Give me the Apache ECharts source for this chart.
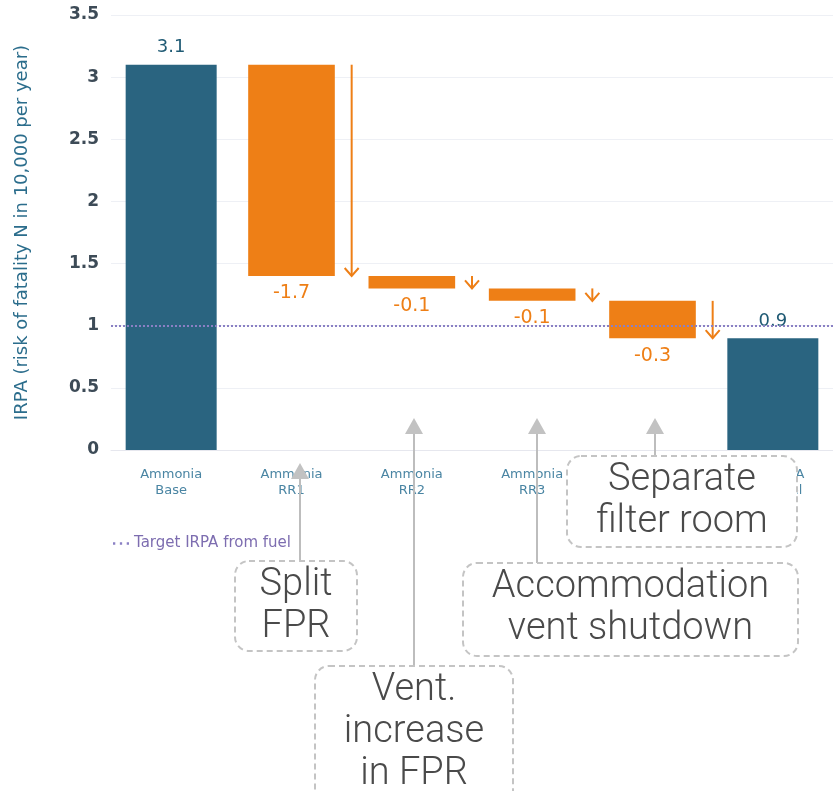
<!DOCTYPE html>
<html>
<head>
<meta charset="utf-8">
<script src="https://cdn.jsdelivr.net/npm/echarts@6/dist/echarts.min.js"></script>
<style>
  html, body { margin: 0; padding: 0; background: #fff; }
  #chart { width: 833px; height: 791px; }
</style>
</head>
<body>
<div id="chart"></div>
<script>
// chart data
var categories = ['Ammonia\nBase', 'Ammonia\nRR1', 'Ammonia\nRR2', 'Ammonia\nRR3', 'Ammonia\nRR4', 'Total IRPA\nfrom fuel'];
var totals = [3.1, '-', '-', '-', '-', 0.9];
var changes = [null, -1.7, -0.1, -0.1, -0.3, null];
var target = 1;
var yTicks = {min: 0, max: 3.5, step: 0.5};

var BLUE = '#2a6480';
var ORANGE = '#ee7f16';
var PURPLE = '#8a80c4';
var FONT = '"DejaVu Sans", Verdana, sans-serif';

// running total -> floating bars [index, from, to, label]
var steps = [];
var run = totals[0];
for (var i = 0; i < changes.length; i++) {
  if (changes[i] === null) continue;
  var next = Math.round((run + changes[i]) * 10) / 10;
  steps.push([i, run, next, changes[i]]);
  run = next;
}

function renderStep(params, api) {
  var hi = api.coord([api.value(0), api.value(1)]);
  var lo = api.coord([api.value(0), api.value(2)]);
  var band = api.size([1, 0])[0];
  var w = band * 0.72;
  var ax = hi[0] + band / 2;
  var label = steps[params.dataIndex][3];
  return {
    type: 'group',
    children: [
      {type: 'rect', shape: {x: hi[0] - w / 2, y: hi[1], width: w, height: lo[1] - hi[1]}, style: {fill: ORANGE}},
      {type: 'line', shape: {x1: ax, y1: hi[1], x2: ax, y2: lo[1]}, style: {stroke: ORANGE, lineWidth: 2}},
      {type: 'polyline', shape: {points: [[ax - 7, lo[1] - 8], [ax, lo[1]], [ax + 7, lo[1] - 8]]},
        style: {stroke: ORANGE, lineWidth: 2, fill: null}},
      {type: 'text', style: {text: String(label), x: hi[0], y: lo[1] + 8, align: 'center', verticalAlign: 'top',
        fill: ORANGE, font: '19px ' + FONT}}
    ]
  };
}

// callout boxes under the chart
var notes = [
  {lines: ['Split', 'FPR'], box: [235, 561, 122, 90], arrow: [300, 463]},
  {lines: ['Vent.', 'increase', 'in FPR'], box: [315, 666, 198, 140], arrow: [414, 418]},
  {lines: ['Accommodation', 'vent shutdown'], box: [463, 563, 335, 93], arrow: [537, 418]},
  {lines: ['Separate', 'filter room'], box: [567, 456, 230, 91], arrow: [655, 418]}
];

function noteGraphics() {
  var els = [];
  notes.forEach(function (n) {
    var b = n.box, a = n.arrow;
    els.push({type: 'line', z: 100, shape: {x1: a[0], y1: b[1], x2: a[0], y2: a[1] + 14},
      style: {stroke: '#bdbdbd', lineWidth: 2}});
    els.push({type: 'polygon', z: 100, shape: {points: [[a[0], a[1]], [a[0] - 9, a[1] + 16], [a[0] + 9, a[1] + 16]]},
      style: {fill: '#c2c2c2'}});
    els.push({type: 'rect', z: 101, shape: {x: b[0], y: b[1], width: b[2], height: b[3], r: 14},
      style: {fill: '#fff', stroke: '#c4c4c4', lineWidth: 2, lineDash: [6, 4]}});
    n.lines.forEach(function (t, k) {
      els.push({type: 'text', z: 102, style: {text: t, x: b[0] + b[2] / 2, y: b[1] + 24 + k * 42,
        align: 'center', verticalAlign: 'middle', fill: '#4a4a4a', font: '300 38px Roboto, sans-serif'}});
    });
  });
  return els;
}

var chart = echarts.init(document.getElementById('chart'));
chart.setOption({
  animation: false,
  grid: {left: 111, right: -4, top: 15, bottom: 341},
  legend: {
    left: 108, top: 531, itemWidth: 16, itemHeight: 3, itemGap: 8,
    data: [{name: 'Target IRPA from fuel', icon: 'path://M0,0h2v2h-2z M6,0h2v2h-2z M12,0h2v2h-2z'}],
    textStyle: {color: '#7d6db0', fontSize: 15, fontFamily: FONT}
  },
  xAxis: {
    type: 'category', data: categories,
    axisLine: {lineStyle: {color: '#e6e7ee'}},
    axisTick: {show: false},
    axisLabel: {color: '#4a85a3', fontSize: 13, fontFamily: FONT, margin: 17, lineHeight: 16, interval: 0}
  },
  yAxis: {
    type: 'value', min: yTicks.min, max: yTicks.max, interval: yTicks.step,
    name: 'IRPA (risk of fatality N in 10,000 per year)',
    nameLocation: 'middle', nameGap: 80,
    nameTextStyle: {color: '#2b6d8c', fontSize: 18, fontFamily: FONT},
    axisLabel: {color: '#3d4b57', fontSize: 17, fontWeight: 'bold', fontFamily: FONT, margin: 12},
    splitLine: {lineStyle: {color: '#eef0f5'}}
  },
  series: [
    {
      type: 'bar', data: totals, barWidth: 91,
      itemStyle: {color: BLUE},
      label: {show: true, position: 'top', distance: 8, color: '#1f5a74', fontSize: 18, fontFamily: FONT}
    },
    {
      type: 'custom', data: steps, renderItem: renderStep,
      encode: {x: 0, y: [1, 2]}, z: 3
    },
    {
      name: 'Target IRPA from fuel', type: 'line', data: [],
      symbol: 'none',
      lineStyle: {type: 'dotted', color: PURPLE, width: 2},
      itemStyle: {color: PURPLE},
      markLine: {
        silent: true, symbol: ['none', 'none'], label: {show: false},
        lineStyle: {type: 'dotted', color: PURPLE, width: 2},
        data: [{yAxis: target}]
      }
    }
  ],
  graphic: noteGraphics()
});
</script>
</body>
</html>
